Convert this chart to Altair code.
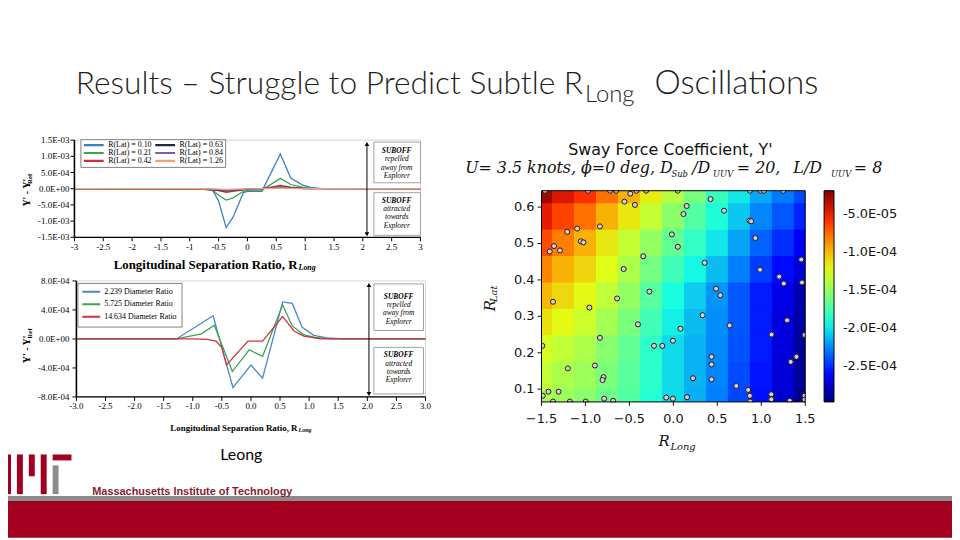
import altair as alt
import pandas as pd

W, H = 952, 532            # canvas = page minus the 8px body margin


def px(x):                 # page pixel -> chart pixel
    return x - 8


def py(y):
    return y - 8


SERIF = "Liberation Serif"
MPL = "DejaVu Sans"
MATH = "DejaVu Serif"
SLIDE = "Lato"
LOGO_FONT = "Liberation Sans"

# ---------------- slide text ----------------
TITLE_MAIN = "Results \u2013 Struggle to Predict Subtle R"
TITLE_SUB = "Long"
TITLE_END = "Oscillations"
CREDIT = "Leong"
MIT_NAME = "Massachusetts Institute of Technology"

# ---------------- top-left chart (Y' - Y'ref, units 1E-3) ----------------
TOP_SERIES = ["R(Lat) = 0.10", "R(Lat) = 0.21", "R(Lat) = 0.42",
              "R(Lat) = 0.63", "R(Lat) = 0.84", "R(Lat) = 1.26"]
TOP_COLORS = ["#3b7dbd", "#34a64b", "#c8323b", "#1c2b48", "#7c5ca6", "#f1a36f"]
TOP_X = [
    [-3, -1.5, -1.0, -0.75, -0.6, -0.5, -0.37, -0.25, -0.07, 0, 0.25, 0.57, 0.75, 0.95, 1.12, 1.3, 3],
    [-3, -1.0, -0.75, -0.6, -0.5, -0.37, -0.25, -0.07, 0, 0.25, 0.57, 0.75, 0.95, 1.12, 3],
    [-3, -0.75, -0.5, -0.37, -0.25, 0, 0.25, 0.57, 0.75, 1.0, 3],
    [-3, -0.75, -0.5, -0.37, -0.25, 0, 0.25, 0.57, 0.75, 1.0, 3],
    [-3, -0.75, -0.5, -0.37, -0.25, 0, 0.25, 0.57, 0.75, 1.0, 3],
    [-3, -0.75, -0.5, -0.37, -0.25, 0, 0.25, 0.57, 0.75, 1.0, 3],
]
TOP_Y_E3 = [
    [0, 0, -0.01, -0.02, -0.06, -0.38, -1.2, -0.88, -0.12, -0.08, -0.08, 1.07, 0.33, 0.12, 0.03, 0.0, 0],
    [0, -0.005, -0.01, -0.04, -0.2, -0.35, -0.28, -0.08, -0.05, -0.04, 0.32, 0.13, 0.05, 0.01, 0],
    [0, -0.005, -0.06, -0.11, -0.08, -0.02, 0.0, 0.10, 0.05, 0.01, 0],
    [0, -0.003, -0.04, -0.07, -0.05, -0.01, 0.0, 0.06, 0.03, 0.005, 0],
    [0, -0.002, -0.03, -0.06, -0.045, -0.01, 0.0, 0.045, 0.02, 0.004, 0],
    [0, -0.001, -0.01, -0.02, -0.015, -0.005, 0.0, 0.015, 0.008, 0.002, 0],
]
TOP_XTICKS = [-3, -2.5, -2, -1.5, -1, -0.5, 0, 0.5, 1, 1.5, 2, 2.5, 3]
TOP_YTICKS = [-0.0015, -0.001, -0.0005, 0, 0.0005, 0.001, 0.0015]

# ---------------- bottom-left chart (units 1E-3) ----------------
BOT_SERIES = ["2.239 Diameter Ratio", "5.725 Diameter Ratio", "14.634 Diameter Ratio"]
BOT_COLORS = ["#4a89c8", "#3aa557", "#d3313b"]
BOT_X = [
    [-3, -1.5, -1.28, -0.65, -0.31, 0, 0.2, 0.545, 0.71, 0.88, 1.08, 1.31, 1.6, 3],
    [-3, -1.5, -1.28, -0.85, -0.63, -0.32, -0.03, 0.2, 0.545, 0.71, 0.9, 1.1, 1.4, 3],
    [-3, -1.0, -0.75, -0.6, -0.5, -0.42, -0.05, 0.2, 0.545, 0.74, 0.91, 1.2, 3],
]
BOT_Y_E3 = [
    [0, 0, 0, 0.32, -0.67, -0.36, -0.54, 0.51, 0.49, 0.16, 0.05, 0.015, 0.0, 0],
    [0, 0, 0, 0.07, 0.19, -0.45, -0.15, -0.24, 0.47, 0.18, 0.06, 0.02, 0.0, 0],
    [0, 0, -0.005, -0.03, -0.12, -0.36, -0.03, -0.03, 0.31, 0.11, 0.04, 0.0, 0],
]
BOT_XTICKS = [-3.0, -2.5, -2.0, -1.5, -1.0, -0.5, 0.0, 0.5, 1.0, 1.5, 2.0, 2.5, 3.0]
BOT_YTICKS = [-0.0008, -0.0004, 0, 0.0004, 0.0008]

# ---------------- right chart: sway force coefficient field (units 1E-4) ----------------
HX = [-1.5, -1.25, -1.0, -0.75, -0.5, -0.25, 0.0, 0.25, 0.5, 0.75, 1.0, 1.25, 1.5]
HY = [0.645, 0.5725, 0.50, 0.4275, 0.355, 0.2825, 0.21, 0.1375, 0.065]
HV_E4 = [
    [-0.28, -0.45, -0.59, -0.78, -0.98, -1.18, -1.39, -1.60, -1.81, -1.99, -2.17, -2.29, -2.42],
    [-0.48, -0.64, -0.78, -0.98, -1.16, -1.34, -1.53, -1.72, -1.90, -2.08, -2.26, -2.39, -2.53],
    [-0.67, -0.82, -0.98, -1.16, -1.34, -1.50, -1.67, -1.83, -2.00, -2.18, -2.36, -2.50, -2.64],
    [-0.84, -0.98, -1.10, -1.25, -1.42, -1.61, -1.79, -1.95, -2.11, -2.28, -2.46, -2.60, -2.73],
    [-1.00, -1.11, -1.22, -1.36, -1.50, -1.71, -1.92, -2.07, -2.22, -2.39, -2.55, -2.69, -2.83],
    [-1.14, -1.22, -1.32, -1.45, -1.59, -1.78, -1.97, -2.11, -2.24, -2.39, -2.55, -2.71, -2.86],
    [-1.28, -1.35, -1.42, -1.54, -1.67, -1.85, -2.03, -2.14, -2.25, -2.40, -2.55, -2.72, -2.89],
    [-1.35, -1.42, -1.47, -1.59, -1.70, -1.86, -2.03, -2.14, -2.26, -2.42, -2.57, -2.73, -2.90],
    [-1.42, -1.47, -1.53, -1.63, -1.72, -1.88, -2.03, -2.15, -2.28, -2.43, -2.58, -2.75, -2.92],
]
PX = [-1.46, -0.97, -0.72, -0.65, -0.49, -0.42, -0.31, 0.05, 0.87, 0.99, 1.03, 1.25,
      -0.557, -0.437, 0.423, 0.152, 0.115, 0.577, -1.207, -1.094, -0.835, 0.866, 0.885,
      -1.053, -1.023, -1.357, -1.406, -1.29, -0.017, 0.051, 0.933, -0.343, 0.355, -0.565,
      0.986, 1.455, 1.204, 1.256, 1.463, -0.272, 0.486, 0.535, -1.369, -0.955, -0.640,
      0.333, 1.294, -0.403, 0.081, 0.640, -0.835, -0.005, 1.117, 1.493, -1.49, -0.22,
      -0.126, 0.434, 1.40, -1.20, -0.892, 0.434, 1.335, -0.794, -0.805, 0.224, 0.434,
      0.716, 0.851, -1.421, -1.305, 0.87, 1.114, -1.485, 1.493, -0.787, -0.685, -0.081,
      -0.005, 0.156, 1.114, -1.369, -1.177, -0.997, 0.873, 1.324, 1.493]
PY = [0.645, 0.645, 0.645, 0.645, 0.637, 0.645, 0.645, 0.645, 0.645, 0.645, 0.645, 0.645,
      0.615, 0.606, 0.622, 0.603, 0.581, 0.590, 0.532, 0.541, 0.547, 0.563, 0.561,
      0.506, 0.503, 0.493, 0.478, 0.481, 0.525, 0.491, 0.515, 0.465, 0.447, 0.430,
      0.428, 0.456, 0.409, 0.390, 0.393, 0.368, 0.376, 0.358, 0.340, 0.324, 0.349,
      0.303, 0.289, 0.278, 0.266, 0.275, 0.241, 0.233, 0.250, 0.249, 0.219, 0.219,
      0.219, 0.189, 0.189, 0.157, 0.165, 0.168, 0.175, 0.133, 0.125, 0.130, 0.127,
      0.109, 0.098, 0.093, 0.093, 0.082, 0.086, 0.082, 0.082, 0.074, 0.068, 0.077,
      0.074, 0.078, 0.072, 0.066, 0.066, 0.066, 0.066, 0.068, 0.071]
HX_TICKS = [-1.5, -1.0, -0.5, 0.0, 0.5, 1.0, 1.5]
HY_TICKS = [0.1, 0.2, 0.3, 0.4, 0.5, 0.6]
CB_MIN, CB_MAX = -2.97e-4, -2.0e-5
CB_TICKS = [-2.5e-4, -2.0e-4, -1.5e-4, -1.0e-4, -5.0e-5]
JET = ["#000080", "#0000ff", "#0080ff", "#15ffe2", "#7bff7b",
       "#e2ff15", "#ff9700", "#ff2100", "#800000"]

# ---------------- helpers ----------------
ONE = pd.DataFrame({"k": [0]})
EXPR_E = ("replace(replace(replace(format(datum.value, '.1e'), 'e-', 'E-0'), "
          "'e+', 'E+0'), '\u2212', '-')")


def long_df(names, xs, ys, unit):
    rows = []
    for name, xl, yl in zip(names, xs, ys):
        for i, (a, b) in enumerate(zip(xl, yl)):
            rows.append({"series": name, "x": a, "y": b * unit, "i": i})
    return pd.DataFrame(rows)


def text(txt, x, y, size, font, align="left", baseline="alphabetic", **kw):
    return alt.Chart(ONE).mark_text(text=txt, align=align, baseline=baseline,
                                    font=font, fontSize=size, **kw).encode(
        x=alt.value(x), y=alt.value(y))


def box(x1, x2, y1, y2, **kw):
    return alt.Chart(ONE).mark_rect(**kw).encode(
        x=alt.value(x1), x2=alt.value(x2), y=alt.value(y1), y2=alt.value(y2))


def rule(x1, x2, y1, y2, **kw):
    return alt.Chart(ONE).mark_rule(**kw).encode(
        x=alt.value(x1), x2=alt.value(x2), y=alt.value(y1), y2=alt.value(y2))


def tri(x, y, shape):
    return alt.Chart(ONE).mark_point(shape=shape, filled=True, color="#000",
                                     size=22, opacity=1).encode(
        x=alt.value(x), y=alt.value(y))


def guide_layers(xs, ys, xticks, xlabels, yticks, ylabels, box_px, font, fs, color,
                 xlab_y, ylab_x, tick=4, domain_w=(1.6, 1.2), domain=True):
    """Ticks and labels drawn through the sub-chart's own scales."""
    x0, x1, ytop, ybot = box_px
    dfx = pd.DataFrame({"v": xticks, "lab": xlabels})
    dfy = pd.DataFrame({"v": yticks, "lab": ylabels})
    out = [
        alt.Chart(dfx).mark_rule(color=color, strokeWidth=1).encode(
            x=alt.X("v:Q", scale=xs, axis=None),
            y=alt.value(py(ybot)), y2=alt.value(py(ybot) + tick)),
        alt.Chart(dfx).mark_text(font=font, fontSize=fs, color=color, align="center",
                                 baseline="middle").encode(
            x=alt.X("v:Q", scale=xs, axis=None), y=alt.value(py(xlab_y)), text="lab:N"),
        alt.Chart(dfy).mark_rule(color=color, strokeWidth=1).encode(
            y=alt.Y("v:Q", scale=ys, axis=None),
            x=alt.value(px(x0) - tick), x2=alt.value(px(x0))),
        alt.Chart(dfy).mark_text(font=font, fontSize=fs, color=color, align="right",
                                 baseline="middle").encode(
            y=alt.Y("v:Q", scale=ys, axis=None), x=alt.value(px(ylab_x)), text="lab:N"),
    ]
    if domain:
        out += [rule(px(x0), px(x0), py(ytop), py(ybot), color=color, strokeWidth=domain_w[0]),
                rule(px(x0), px(x1), py(ybot), py(ybot), color=color, strokeWidth=domain_w[1])]
    return out


def excel_chart(df, names, colors, xdom, ydom, xr, yr, xticks, xlabels, yticks, legend,
                xlab_y, ylab_x):
    xs = alt.Scale(domain=xdom, range=[px(xr[0]), px(xr[1])], nice=False, zero=False)
    ys = alt.Scale(domain=ydom, range=[py(yr[0]), py(yr[1])], nice=False, zero=False)
    frame_df = pd.DataFrame({"x": [xdom[0]], "x2": [xdom[1]], "y": [ydom[0]], "y2": [ydom[1]]})
    frame = alt.Chart(frame_df).mark_rect(fillOpacity=0, stroke="#d4d4d4", strokeWidth=1).encode(
        x=alt.X("x:Q", scale=xs, axis=None), x2="x2",
        y=alt.Y("y:Q", scale=ys, axis=None), y2="y2")
    lines = alt.Chart(df).mark_line(strokeWidth=1.3).encode(
        x=alt.X("x:Q", scale=xs, axis=None),
        y=alt.Y("y:Q", scale=ys, axis=None),
        color=alt.Color("series:N", scale=alt.Scale(domain=names, range=colors), legend=legend),
        order="i:Q",
    )
    ylabels = [f"{v:.1E}" for v in yticks]
    guides = guide_layers(xs, ys, xticks, xlabels, yticks, ylabels,
                          (xr[0], xr[1], yr[1], yr[0]), SERIF, 9, "#000", xlab_y, ylab_x)
    return alt.layer(frame, lines, *guides)


# ---------------- top-left chart ----------------
df_top = long_df(TOP_SERIES, TOP_X, TOP_Y_E3, 1e-3)
top_legend = alt.Legend(orient="none", legendX=px(81), legendY=py(138), columns=2, title=None,
                        symbolType="stroke", symbolSize=400, symbolStrokeWidth=2.2, clipHeight=8,
                        labelFont=SERIF, labelFontSize=8, labelColor="#000", labelOffset=3,
                        rowPadding=0, columnPadding=2, padding=2, strokeColor="#808080",
                        fillColor="white", labelLimit=200)
top_chart = excel_chart(df_top, TOP_SERIES, TOP_COLORS, [-3, 3], [-0.0015, 0.0015],
                        (75, 424), (237, 139), TOP_XTICKS, [f"{v:g}" for v in TOP_XTICKS],
                        TOP_YTICKS, top_legend, 247, 70)

# ---------------- bottom-left chart ----------------
df_bot = long_df(BOT_SERIES, BOT_X, BOT_Y_E3, 1e-3)
bot_legend = alt.Legend(orient="none", legendX=px(78), legendY=py(283), columns=1, title=None,
                        symbolType="stroke", symbolSize=324, symbolStrokeWidth=2.0, clipHeight=10,
                        labelFont=SERIF, labelFontSize=8, labelColor="#000", labelOffset=3,
                        rowPadding=2.6, padding=4, strokeColor="#808080",
                        fillColor="white", labelLimit=200)
bot_chart = excel_chart(df_bot, BOT_SERIES, BOT_COLORS, [-3, 3], [-0.0008, 0.0008],
                        (77, 429), (398, 281), BOT_XTICKS, [f"{v:.1f}" for v in BOT_XTICKS],
                        BOT_YTICKS, bot_legend, 407, 70)

# ---------------- right heat map ----------------
cells = []
for j, yv in enumerate(HY):
    for i, xv in enumerate(HX):
        cells.append({"x": xv - 0.13, "x2": xv + 0.13, "y": yv - 0.038,
                      "y2": yv + 0.038, "v": HV_E4[j][i] * 1e-4})
df_cells = pd.DataFrame(cells)
df_pts = pd.DataFrame({"x": PX, "y": PY})

HXS = alt.Scale(domain=[-1.5, 1.5], range=[px(546), px(812)], nice=False, zero=False, clamp=True)
HYS = alt.Scale(domain=[0.065, 0.645], range=[py(403), py(190)], nice=False, zero=False, clamp=True)
stops = [CB_MIN + (CB_MAX - CB_MIN) * k / (len(JET) - 1) for k in range(len(JET))]
CSCALE = alt.Scale(domain=stops, range=JET, interpolate="rgb")

heat_cells = alt.Chart(df_cells).mark_rect().encode(
    x=alt.X("x:Q", scale=HXS, axis=None), x2="x2",
    y=alt.Y("y:Q", scale=HYS, axis=None), y2="y2",
    color=alt.Color("v:Q", scale=CSCALE, legend=alt.Legend(
        type="gradient", orient="none", legendX=px(831), legendY=py(190), direction="vertical",
        gradientLength=213, gradientThickness=10, title=None, values=CB_TICKS,
        labelExpr=EXPR_E, labelFont=MPL, labelFontSize=13, labelColor="#111",
        labelOffset=9, gradientStrokeColor="#000", gradientStrokeWidth=1,
        padding=0, labelOverlap=False)),
)
heat_pts = alt.Chart(df_pts).mark_point(shape="circle", filled=True, fill="#e0c8cf",
                                        stroke="#1e1e1e", strokeWidth=1, size=26,
                                        opacity=1).encode(
    x=alt.X("x:Q", scale=HXS, axis=None), y=alt.Y("y:Q", scale=HYS, axis=None))
heat_frame = alt.Chart(pd.DataFrame({"x": [-1.5], "x2": [1.5], "y": [0.065], "y2": [0.645]})).mark_rect(
    fillOpacity=0, stroke="#000", strokeWidth=1).encode(
    x=alt.X("x:Q", scale=HXS, axis=None), x2="x2",
    y=alt.Y("y:Q", scale=HYS, axis=None), y2="y2")
# white masks so markers are cut at the plot edge, as in the original
masks = [box(px(538), px(820), py(182), py(189.5), fill="white"),
         box(px(538), px(820), py(403.5), py(410), fill="white"),
         box(px(538), px(545.5), py(182), py(410), fill="white"),
         box(px(812.5), px(820), py(182), py(410), fill="white")]
heat_guides = guide_layers(HXS, HYS, HX_TICKS, [f"{v:.1f}".replace("-", "\u2212") for v in HX_TICKS],
                           HY_TICKS, [f"{v:.1f}" for v in HY_TICKS], (546, 812, 190, 403),
                           MPL, 13, "#111", 420, 539, tick=4, domain=False)
heat_chart = alt.layer(heat_cells, heat_pts, *masks, heat_frame, *heat_guides)

# ---------------- annotations ----------------
anno = []
anno += [rule(px(370), px(370), py(143), py(234), color="#000", strokeWidth=1),
         tri(px(370), py(143), "triangle-up"), tri(px(370), py(234), "triangle-down"),
         box(px(377), px(424), py(141), py(182), fill="white", stroke="#a0a0a0", strokeWidth=1),
         box(px(377), px(424), py(192), py(235), fill="white", stroke="#a0a0a0", strokeWidth=1)]
anno += [rule(px(372), px(372), py(285), py(395), color="#000", strokeWidth=1),
         tri(px(372), py(285), "triangle-up"), tri(px(372), py(395), "triangle-down"),
         box(px(377), px(427), py(284), py(331), fill="white", stroke="#a0a0a0", strokeWidth=1),
         box(px(377), px(427), py(348), py(395), fill="white", stroke="#a0a0a0", strokeWidth=1)]
BOX_TXT = [("SUBOFF", ["repelled", "away from", "Explorer"]),
           ("SUBOFF", ["attracted", "towards", "Explorer"])]
for (cx, tops) in [(400, (150, 200)), (402, (297, 356))]:
    for (head, rest), ty in zip(BOX_TXT, tops):
        anno.append(text(head, px(cx), py(ty), 7.5, SERIF, align="center", baseline="middle",
                         fontStyle="italic", fontWeight="bold", color="#000"))
        for k, line in enumerate(rest):
            anno.append(text(line, px(cx), py(ty + 8.4 * (k + 1)), 7.5, SERIF, align="center",
                             baseline="middle", fontStyle="italic", color="#000"))

anno += [text("Longitudinal Separation Ratio, R", px(300), py(265), 13, SERIF, align="right",
              baseline="middle", fontWeight="bold", color="#000"),
         text("Long", px(301), py(268), 8, SERIF, baseline="middle", fontWeight="bold",
              fontStyle="italic", color="#000"),
         text("Y' - Y'", px(27), py(192), 10, SERIF, align="center", baseline="middle",
              angle=270, fontWeight="bold", color="#000"),
         text("Ref", px(30), py(178), 7, SERIF, align="center", baseline="middle",
              angle=270, fontWeight="bold", color="#000"),
         text("Longitudinal Separation Ratio, R", px(300), py(429), 9, SERIF, align="right",
              baseline="middle", fontWeight="bold", color="#000"),
         text("Long", px(301), py(431), 6, SERIF, baseline="middle", fontWeight="bold",
              fontStyle="italic", color="#000"),
         text("Y' - Y'", px(27), py(350), 10, SERIF, align="center", baseline="middle",
              angle=270, fontWeight="bold", color="#000"),
         text("Ref", px(30), py(334), 7, SERIF, align="center", baseline="middle",
              angle=270, fontWeight="bold", color="#000")]

anno += [text("Sway Force Coefficient, Y'", px(676), py(154), 16, MPL, align="center",
              color="#111")]
SUB_SEGS = [("U= 3.5 knots, \u03d5=0 deg, D", 469, 16, 0), ("Sub", 677, 8.5, 4),
            ("/D", 698, 16, 0), ("UUV", 719, 8.5, 4), ("= 20,", 743, 16, 0),
            ("L/D", 800, 16, 0), ("UUV", 838, 8.5, 4), ("= 8", 861, 16, 0)]
for seg, sx, fs, dy in SUB_SEGS:
    anno.append(text(seg, px(sx), py(172 + dy), fs, MATH, fontStyle="italic", color="#111"))
anno += [text("R", px(664), py(447), 15, MATH, fontStyle="italic", color="#111"),
         text("Long", px(676), py(451), 10, MATH, fontStyle="italic", color="#111"),
         text("R", px(494), py(306), 15, MATH, align="center", baseline="middle", angle=270,
              fontStyle="italic", color="#111"),
         text("Lat", px(498), py(294), 10, MATH, align="center", baseline="middle", angle=270,
              fontStyle="italic", color="#111")]

anno += [text(TITLE_MAIN, px(588), py(92), 32, SLIDE, align="right", fontWeight=300, color="#1f1f1f"),
         text(TITLE_SUB, px(590), py(101), 24, SLIDE, fontWeight=300, color="#1f1f1f"),
         text(TITLE_END, px(660), py(92), 33.5, SLIDE, fontWeight=300, color="#1f1f1f"),
         text(CREDIT, px(222), py(462), 16, SLIDE, color="#000")]
RED, GRAY = "#a3001f", "#8c8c8c"
anno += [box(0, W, py(498), py(503), fill=GRAY),
         box(0, W, py(503), H, fill=RED),
         box(px(5), px(11), py(456), py(496), fill=RED),
         box(px(17), px(23), py(456), py(496), fill=RED),
         box(px(29), px(35), py(456), py(478), fill=RED),
         box(px(41), px(47), py(456), py(496), fill=RED),
         box(px(53), px(59), py(467), py(496), fill=GRAY),
         box(px(53), px(72), py(456), py(462), fill=RED),
         text(MIT_NAME, px(93), py(497), 11, LOGO_FONT, fontWeight="bold", color="#8a1b2d")]

chart = alt.layer(top_chart, bot_chart, heat_chart, *anno).resolve_scale(
    x="independent", y="independent", color="independent"
).properties(
    width=W, height=H, padding=0, background="white",
    autosize=alt.AutoSizeParams(type="none"),
).configure_view(strokeWidth=0)

chart.save("out.html", embed_options={"renderer": "svg", "actions": False})
